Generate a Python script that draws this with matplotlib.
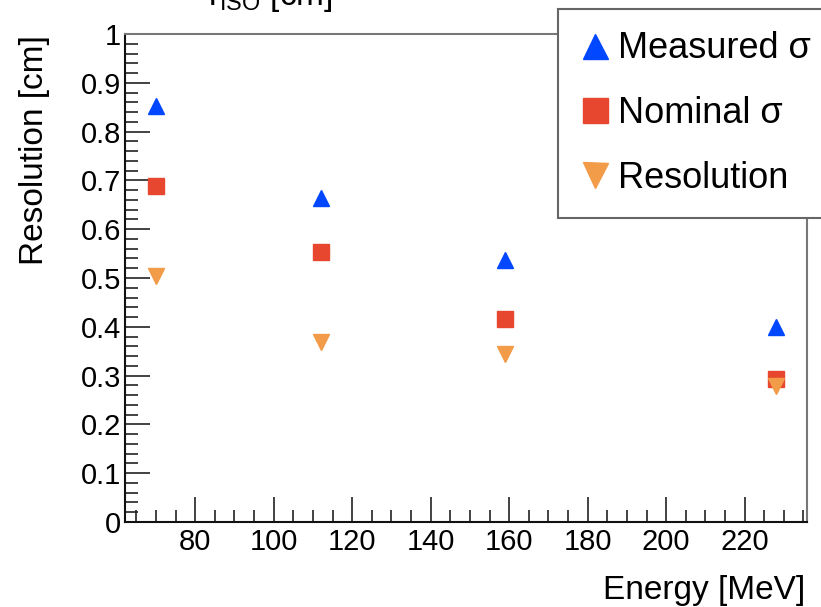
import matplotlib.pyplot as plt
from matplotlib.ticker import MultipleLocator

plt.rcParams['font.family'] = ['Liberation Sans', 'DejaVu Sans']
plt.rcParams['mathtext.fontset'] = 'custom'
plt.rcParams['mathtext.rm'] = 'Liberation Sans'
plt.rcParams['mathtext.it'] = 'Liberation Sans'

energy = [70, 112, 159, 228]
measured_sigma = [0.852, 0.664, 0.537, 0.400]
nominal_sigma = [0.689, 0.553, 0.416, 0.293]
resolution = [0.504, 0.369, 0.344, 0.279]

blue = '#0047ff'
red = '#e8472f'
orange = '#f29b48'

fig = plt.figure(figsize=(8.21, 6.07), dpi=100)
ax = fig.add_axes([125/821, 85/607, 682/821, 488/607])

ax.plot(energy, measured_sigma, '^', color=blue, markersize=12, label='Measured σ')
ax.plot(energy, nominal_sigma, 's', color=red, markersize=12, label='Nominal σ')
ax.plot(energy, resolution, 'v', color=orange, markersize=12, label='Resolution')

ax.set_xlim(62.1, 235.9)
ax.set_ylim(0, 1)
ax.xaxis.set_major_locator(MultipleLocator(20))
ax.xaxis.set_minor_locator(MultipleLocator(5))
ax.yaxis.set_major_locator(MultipleLocator(0.1))
ax.yaxis.set_minor_locator(MultipleLocator(0.02))
ax.set_xticks([80, 100, 120, 140, 160, 180, 200, 220])
ax.set_yticks([0, 0.1, 0.2, 0.3, 0.4, 0.5, 0.6, 0.7, 0.8, 0.9, 1])
ax.set_yticklabels(['0', '0.1', '0.2', '0.3', '0.4', '0.5', '0.6', '0.7', '0.8', '0.9', '1'])
ax.tick_params(which='both', direction='in', top=False, right=False, labelsize=21, color='#222222')
ax.tick_params(which='major', length=18, width=1.2)
ax.tick_params(which='minor', length=9, width=1.2)
ax.tick_params(axis='y', which='major', pad=3)
ax.tick_params(axis='x', which='major', pad=4)

for side in ['left', 'bottom']:
    ax.spines[side].set_color('#111111')
    ax.spines[side].set_linewidth(1.5)
for side in ['top', 'right']:
    ax.spines[side].set_color('#777777')
    ax.spines[side].set_linewidth(1.5)

fig.text(35/821, 1 - 35/607, 'Resolution [cm]', rotation=90, ha='center', va='top', fontsize=24)
fig.text(805/821, 1 - 590/607, 'Energy [MeV]', ha='right', va='center', fontsize=24)
fig.text(270/821, 1 - 5/607, r'r$_{\rm ISO}$ [cm]', ha='center', va='baseline', fontsize=24)

leg = ax.legend(loc='upper left', bbox_to_anchor=(558/821, 1 - 9/607), bbox_transform=fig.transFigure,
                fontsize=26, markerscale=1.5, frameon=True, fancybox=False, borderpad=0.62,
                labelspacing=0.82, handlelength=0.83, handletextpad=0.22, borderaxespad=0)
leg.get_frame().set_edgecolor('#666666')
leg.get_frame().set_linewidth(1.5)
leg.get_frame().set_alpha(1)

plt.savefig('out.png', dpi=100)
